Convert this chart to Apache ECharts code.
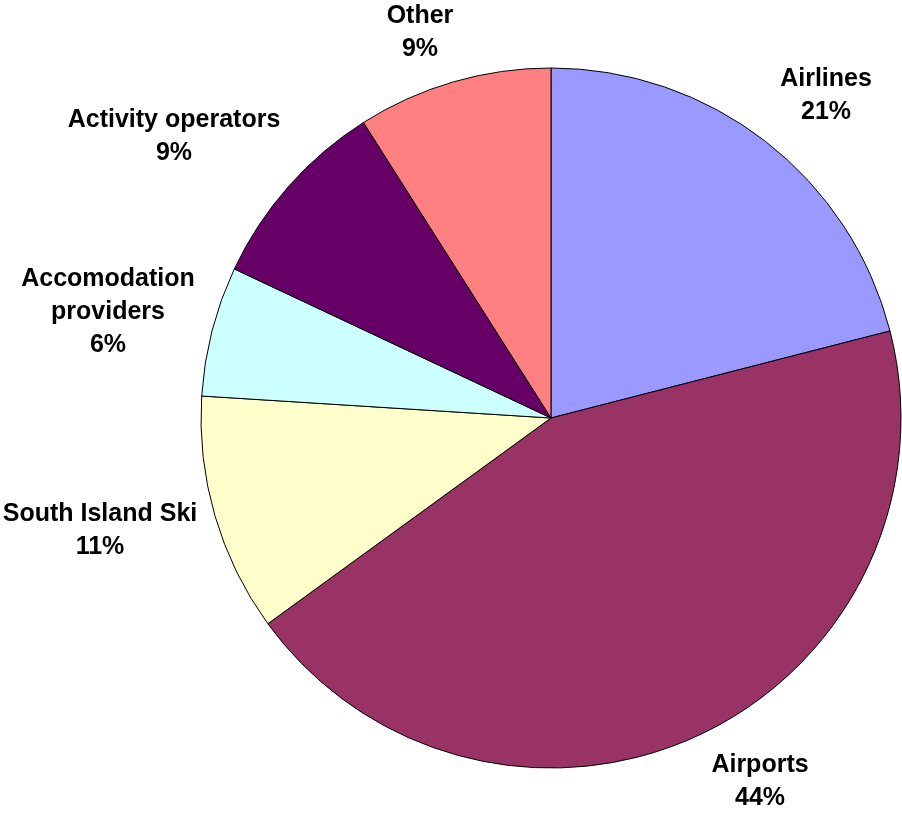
<!DOCTYPE html>
<html>
<head>
<meta charset="utf-8">
<title>Share by sector</title>
<script src="https://cdn.jsdelivr.net/npm/echarts@6/dist/echarts.min.js"></script>
<style>
  html, body { margin: 0; padding: 0; background: #ffffff; }
  #chart { width: 902px; height: 813px; }
</style>
</head>
<body>
<div id="chart"></div>
<script>
// Sector names and their shares (percent), clockwise from twelve o'clock
var sectors = ['Airlines', 'Airports', 'South Island Ski', 'Accomodation\nproviders', 'Activity operators', 'Other'];
var shares = [21, 44, 11, 6, 9, 9];
var sliceColors = ['#9999FF', '#993366', '#FFFFCC', '#CCFFFF', '#660066', '#FF8080'];

// Label anchor points (block centres) around the pie
var labelSpots = [[826, 96], [760, 782], [100, 531], [108, 312], [174, 137], [420, 33]];

var chart = echarts.init(document.getElementById('chart'), null, { renderer: 'canvas' });

var pieData = sectors.map(function (name, i) {
  return { name: name, value: shares[i], itemStyle: { color: sliceColors[i] } };
});

chart.setOption({
  backgroundColor: '#ffffff',
  animation: false,
  series: [{
    type: 'pie',
    center: [551, 418],
    radius: [0, 350],
    startAngle: 90,
    clockwise: true,
    percentPrecision: 0,
    avoidLabelOverlap: false,
    data: pieData,
    itemStyle: { borderColor: '#000000', borderWidth: 1 },
    emphasis: { disabled: true },
    label: {
      show: true,
      position: 'outside',
      formatter: '{b}\n{d}%',
      fontFamily: 'Liberation Sans, Arial, sans-serif',
      fontWeight: 'bold',
      fontSize: 25,
      lineHeight: 33,
      color: '#000000',
      align: 'center'
    },
    labelLine: { show: false },
    labelLayout: function (params) {
      var p = labelSpots[params.dataIndex];
      return { x: p[0], y: p[1], align: 'center', verticalAlign: 'middle' };
    }
  }]
});
</script>
</body>
</html>
